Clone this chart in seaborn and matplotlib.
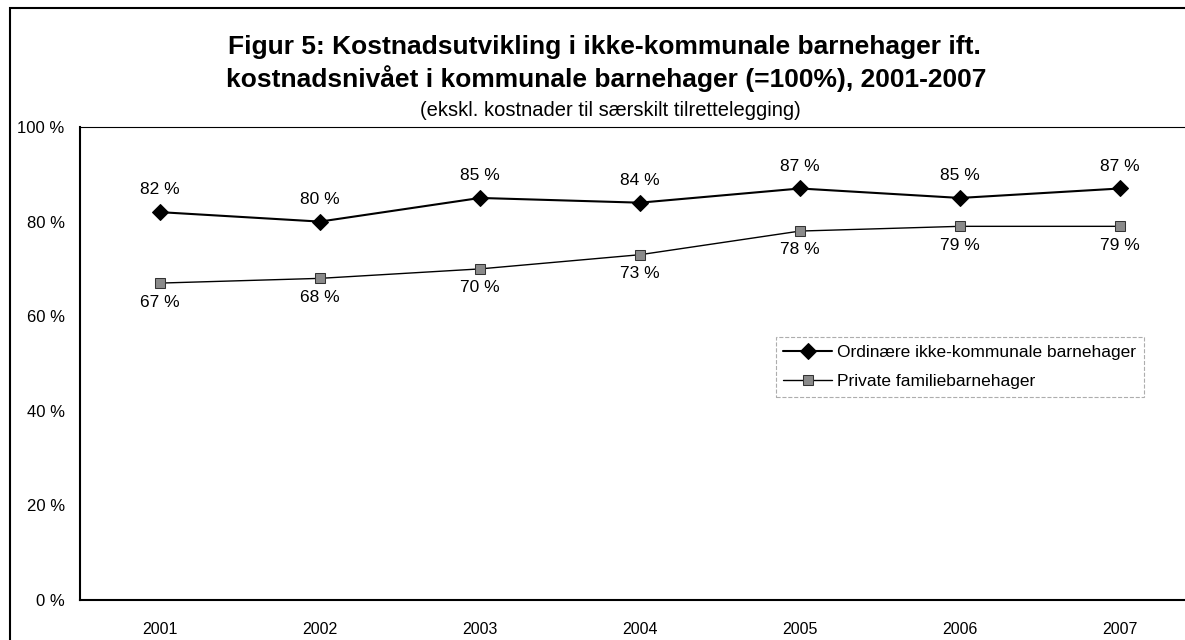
import pandas as pd
import seaborn as sns
import matplotlib.pyplot as plt
from matplotlib.patches import Rectangle

# data
years = ['2001', '2002', '2003', '2004', '2005', '2006', '2007']
ordinaere = [82, 80, 85, 84, 87, 85, 87]
private = [67, 68, 70, 73, 78, 79, 79]
series_names = ['Ordinære ikke-kommunale barnehager', 'Private familiebarnehager']

sns.set_theme(style='white')
plt.rcParams['font.family'] = ['Liberation Sans', 'DejaVu Sans']
plt.rcParams['text.color'] = 'black'
plt.rcParams['xtick.color'] = 'black'
plt.rcParams['ytick.color'] = 'black'

df = pd.DataFrame({'year': years * 2,
                   'value': ordinaere + private,
                   'serie': [series_names[0]] * 7 + [series_names[1]] * 7})

fig = plt.figure(figsize=(11.85, 6.4), dpi=100)
ax = fig.add_axes([80 / 1185, 40 / 640, 1120 / 1185, 473 / 640])

# outer frame of the figure
fig.patches.append(Rectangle((10 / 1185, -0.1), 1.2, 633 / 640 + 0.1 - 0.002,
                             transform=fig.transFigure, fill=False,
                             edgecolor='black', linewidth=1.5))

sns.lineplot(data=df[df['serie'] == series_names[0]], x='year', y='value',
             marker='D', markersize=8, color='black', linewidth=1.5,
             markeredgecolor='black', label=series_names[0], ax=ax)
sns.lineplot(data=df[df['serie'] == series_names[1]], x='year', y='value',
             marker='s', markersize=7, color='black', linewidth=1.0,
             markerfacecolor='#8a8a8a', markeredgecolor='#333333',
             label=series_names[1], ax=ax)

# data labels
for i, v in enumerate(ordinaere):
    ax.text(i, v + 4.7, f'{v} %', ha='center', va='center', fontsize=12.5)
for i, v in enumerate(private):
    ax.text(i, v - 4.0, f'{v} %', ha='center', va='center', fontsize=12.5)

ax.set_xlim(-0.5, 6.5)
ax.set_ylim(0, 100)
ax.set_yticks(range(0, 101, 20))
ax.set_yticklabels([f'{t} %' for t in range(0, 101, 20)], fontsize=12)
ax.tick_params(axis='x', labelsize=11.5, pad=10)
ax.tick_params(axis='y', pad=5)
ax.set_xlabel('')
ax.set_ylabel('')
for s in ['left', 'bottom', 'top']:
    ax.spines[s].set_color('black')
ax.spines['left'].set_linewidth(1.5)
ax.spines['bottom'].set_linewidth(1.5)
ax.spines['top'].set_linewidth(0.8)
ax.spines['right'].set_visible(False)

leg = ax.legend(loc='upper left', bbox_to_anchor=(687 / 1120, 272 / 473),
                fontsize=12.5, frameon=True, fancybox=False, handlelength=2.8,
                borderpad=0.45, labelspacing=0.8, handletextpad=0.3)
leg.get_frame().set_edgecolor('#999999')
leg.get_frame().set_linestyle('--')
leg.get_frame().set_linewidth(0.8)

fig.text(604 / 1185, 1 - 47 / 640, 'Figur 5: Kostnadsutvikling i ikke-kommunale barnehager ift.',
         ha='center', va='center', fontsize=19, fontweight='bold')
fig.text(606 / 1185, 1 - 79 / 640, 'kostnadsnivået i kommunale barnehager (=100%), 2001-2007',
         ha='center', va='center', fontsize=19, fontweight='bold')
fig.text(610 / 1185, 1 - 111 / 640, '(ekskl. kostnader til særskilt tilrettelegging)',
         ha='center', va='center', fontsize=14.5)

fig.savefig('out.png', dpi=100)
